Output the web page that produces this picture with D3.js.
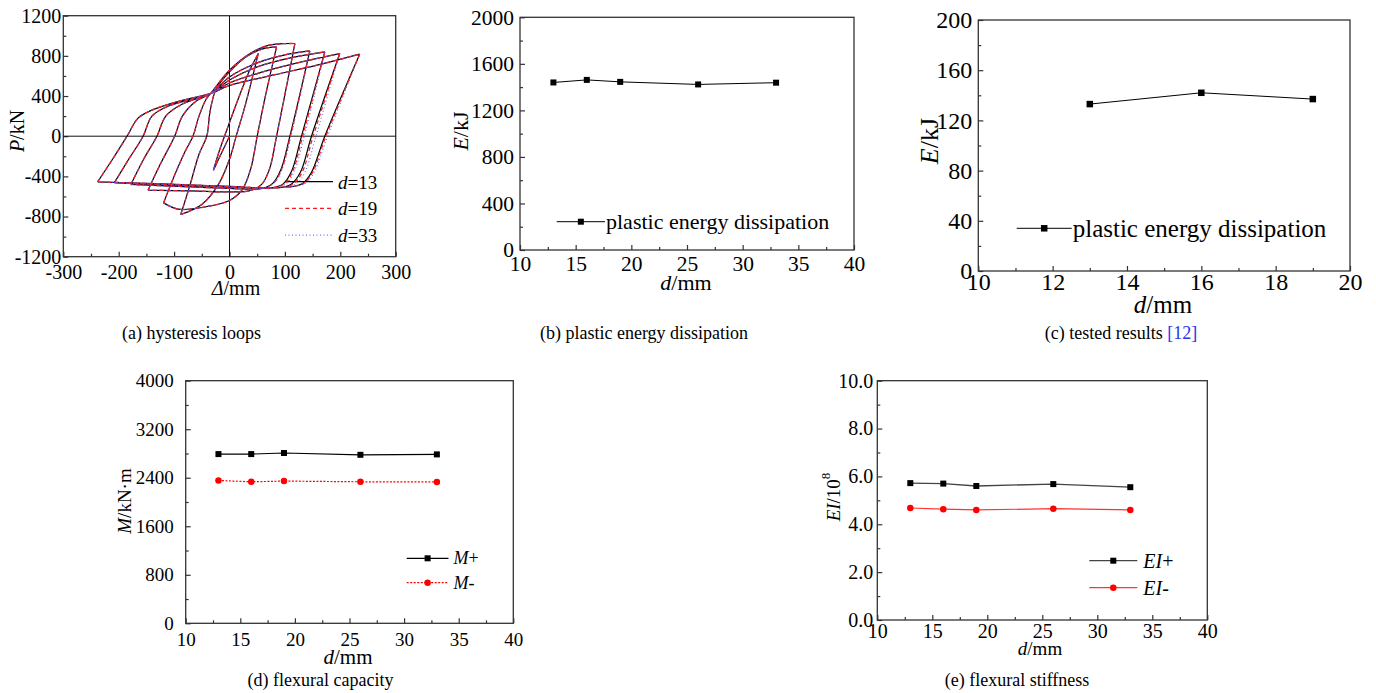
<!DOCTYPE html>
<html>
<head>
<meta charset="utf-8">
<script src="https://cdn.jsdelivr.net/npm/d3@7"></script>
<style>
  body { margin: 0; background: #fff; }
  text { font-family: "Liberation Serif", "Times New Roman", serif; fill: #000; }
</style>
</head>
<body>
<script>
// data

// (a) hysteresis loops, d=13
// first push to the small negative peak, then cycles: each reload ends at a positive peak,
// each unload ends at the next negative peak
const loopStart = [[0, 0], [-12, -140], [-29, -339]];
const loopReload = [
  [[-18, -140], [-5, 60], [15, 360], [35, 640], [52, 824]],
  [[-72, -500], [-55, -180], [-41, 0], [-35, 250], [-24, 470], [0, 640], [30, 790], [60, 870], [85, 890]],
  [[-100, -400], [-80, -150], [-66, 0], [-55, 200], [-42, 370], [-32, 440], [0, 657], [37, 823], [67, 900], [95, 921], [118, 923]],
  [[-125, -280], [-99, 0], [-85, 200], [-60, 350], [-32, 430], [0, 590], [50, 730], [100, 810], [145, 850]],
  [[-155, -230], [-131, 0], [-115, 200], [-85, 320], [-32, 430], [0, 560], [50, 690], [110, 780], [172, 840]],
  [[-182, -230], [-156, 0], [-140, 200], [-110, 300], [-60, 380], [-32, 430], [0, 530], [60, 640], [130, 740], [199, 823]],
  [[-210, -220], [-185, 0], [-165, 180], [-140, 260], [-95, 342], [-32, 430], [0, 505], [80, 610], [160, 710], [235, 817]]
];
const loopUnload = [
  [[42, 600], [28, 300], [12, 0], [0, -230], [-20, -480], [-50, -680], [-88, -780]],
  [[64, 380], [50, 0], [38, -330], [22, -540], [0, -640], [-40, -700], [-92, -727], [-119, -664]],
  [[85, 0], [72, -330], [58, -480], [35, -545], [0, -555], [-70, -545], [-147, -538]],
  [[109, 0], [93, -330], [78, -470], [55, -525], [0, -520], [-90, -500], [-178, -481]],
  [[130, 0], [112, -350], [97, -475], [75, -515], [0, -505], [-100, -485], [-208, -465]],
  [[148, 0], [128, -360], [112, -475], [90, -512], [0, -500], [-120, -475], [-238, -455]],
  [[172, 0], [148, -360], [132, -470], [115, -500], [100, -505]]
];
// how far the unloading branches of d=19 and d=33 sit to the right of d=13 (mm)
const unloadShift19 = [0, 0, 0, 1, 2, 3, 2];
const unloadShift33 = [0, 0, 0, 2, 5, 8, 5];
const loopSeries = ["d=13", "d=19", "d=33"];

// (b) plastic energy dissipation
const dSim = [13, 16, 19, 26, 33];
const energySim = [1440, 1462, 1445, 1423, 1438];
// (c) tested results
const dTest = [13, 16, 19];
const energyTest = [133, 142, 137];
// (d) flexural capacity
const momentPlus = [2790, 2790, 2808, 2778, 2785];
const momentMinus = [2355, 2333, 2345, 2333, 2330];
// (e) flexural stiffness
const eiPlus = [5.72, 5.70, 5.60, 5.68, 5.55];
const eiMinus = [4.68, 4.63, 4.60, 4.65, 4.60];

// ticks
const dispTicks = [-300, -200, -100, 0, 100, 200, 300];
const dispMinor = [-250, -150, -50, 50, 150, 250];
const forceTicks = [-1200, -800, -400, 0, 400, 800, 1200];
const forceMinor = [-1000, -600, -200, 200, 600, 1000];
const dTicks = [10, 15, 20, 25, 30, 35, 40];
const dMinor = [12.5, 17.5, 22.5, 27.5, 32.5, 37.5];
const dTestTicks = [10, 12, 14, 16, 18, 20];
const dTestMinor = [11, 13, 15, 17, 19];
const energyTicks = [0, 400, 800, 1200, 1600, 2000];
const energyMinor = [200, 600, 1000, 1400, 1800];
const testTicks = [0, 40, 80, 120, 160, 200];
const testMinor = [20, 60, 100, 140, 180];
const momentTicks = [0, 800, 1600, 2400, 3200, 4000];
const momentMinor = [400, 1200, 2000, 2800, 3600];
const eiTicks = [0, 2, 4, 6, 8, 10];
const eiMinor = [1, 3, 5, 7, 9];

const frameColor = "#333";
const serif = '"Liberation Serif", "Times New Roman", serif';

let svg = d3.select("body")
  .append("svg")
  .attr("width", 1376)
  .attr("height", 693);

svg.append("rect").attr("width", 1376).attr("height", 693).style("fill", "#fff");

function makePanel(p) {
  let x = d3.scaleLinear().domain(p.xDomain).range([p.left, p.right]);
  let y = d3.scaleLinear().domain(p.yDomain).range([p.bottom, p.top]);
  let g = svg.append("g");

  let tidy = (sel) => {
    sel.attr("font-family", serif);
    sel.select(".domain").remove();
    sel.selectAll(".tick line").style("stroke", frameColor).style("stroke-width", 1.2);
    sel.selectAll(".tick text")
      .style("font-family", serif)
      .style("font-size", p.tickFont + "px")
      .style("fill", "#000");
  };

  g.append("g").attr("transform", `translate(0,${p.bottom})`)
    .call(d3.axisBottom(x).tickValues(p.xMinor).tickSize(-3).tickFormat(""))
    .call(tidy);
  g.append("g").attr("transform", `translate(0,${p.bottom})`)
    .call(d3.axisBottom(x).tickValues(p.xTicks).tickSize(-5).tickPadding(p.xPad).tickFormat(p.xFmt || (d => d)))
    .call(tidy);
  g.append("g").attr("transform", `translate(${p.left},0)`)
    .call(d3.axisLeft(y).tickValues(p.yMinor).tickSize(-3).tickFormat(""))
    .call(tidy);
  g.append("g").attr("transform", `translate(${p.left},0)`)
    .call(d3.axisLeft(y).tickValues(p.yTicks).tickSize(-5).tickPadding(p.yPad).tickFormat(p.yFmt || (d => d)))
    .call(tidy);

  g.append("rect")
    .attr("x", p.left).attr("y", p.top)
    .attr("width", p.right - p.left).attr("height", p.bottom - p.top)
    .style("fill", "none")
    .style("stroke", frameColor)
    .style("stroke-width", 1.3);

  return { x, y, g };
}

// label like "E/kJ": italic part then the rest
function axisLabel(g, x, y, italic, rest, size, rotate) {
  let t = g.append("text")
    .attr("x", x).attr("y", y)
    .attr("text-anchor", "middle")
    .attr("dominant-baseline", "central")
    .style("font-size", size + "px");
  if (rotate) t.attr("transform", `rotate(-90,${x},${y})`);
  t.append("tspan").style("font-style", "italic").text(italic);
  t.append("tspan").text(rest);
  return t;
}

function caption(x, y, txt, extra) {
  let t = svg.append("text")
    .attr("x", x).attr("y", y)
    .attr("text-anchor", "middle")
    .style("font-size", "18px")
    .text(txt);
  if (extra) t.append("tspan").style("fill", "#2233ee").text(extra);
}

function marker(g, type, cx, cy, color, size) {
  if (type === "square") {
    g.append("rect")
      .attr("x", cx - size / 2).attr("y", cy - size / 2)
      .attr("width", size).attr("height", size)
      .style("fill", color);
  } else {
    g.append("circle").attr("cx", cx).attr("cy", cy).attr("r", size / 2).style("fill", color);
  }
}

function series(panel, xs, ys, opt) {
  let pts = xs.map((d, i) => [panel.x(d), panel.y(ys[i])]);
  panel.g.append("path")
    .attr("d", d3.line()(pts))
    .style("fill", "none")
    .style("stroke", opt.color)
    .style("stroke-width", opt.width || 1)
    .style("stroke-dasharray", opt.dash || null);
  pts.forEach(p => marker(panel.g, opt.marker, p[0], p[1], opt.markerColor || opt.color, opt.size || 6));
}

function legendRow(g, x1, x2, y, opt, label, size, italic, gap) {
  g.append("line")
    .attr("x1", x1).attr("x2", x2).attr("y1", y).attr("y2", y)
    .style("stroke", opt.color)
    .style("stroke-width", opt.width || 1)
    .style("stroke-dasharray", opt.dash || null);
  if (opt.marker) marker(g, opt.marker, (x1 + x2) / 2, y, opt.markerColor || opt.color, opt.size || 6);
  let t = g.append("text")
    .attr("x", x2 + (gap || 1)).attr("y", y)
    .attr("dominant-baseline", "central")
    .style("font-size", size + "px");
  if (italic) {
    t.append("tspan").style("font-style", "italic").text(italic);
    t.append("tspan").text(label);
  } else t.text(label);
}

// (a) hysteresis loops
let pa = makePanel({
  left: 63.3, right: 395.7, top: 15.7, bottom: 256.7,
  xDomain: [-300, 300], yDomain: [-1200, 1200],
  xTicks: dispTicks, xMinor: dispMinor, yTicks: forceTicks, yMinor: forceMinor,
  tickFont: 20, xPad: 8, yPad: 2
});
pa.g.append("line")
  .attr("x1", pa.x(-300)).attr("x2", pa.x(300)).attr("y1", pa.y(0)).attr("y2", pa.y(0))
  .style("stroke", "#111").style("stroke-width", 1);
pa.g.append("line")
  .attr("x1", pa.x(0)).attr("x2", pa.x(0)).attr("y1", pa.y(-1200)).attr("y2", pa.y(1200))
  .style("stroke", "#111").style("stroke-width", 1);

// split the loop path at every peak so corners stay sharp
function loopSegments(shift) {
  let segs = [loopStart];
  let last = loopStart[loopStart.length - 1];
  loopReload.forEach((r, k) => {
    let up = [last].concat(r);
    segs.push(up);
    last = r[r.length - 1];
    let down = [last].concat(loopUnload[k].map((p, i) => [p[0] + (i < 3 ? shift[k] : 0), p[1]]));
    segs.push(down);
    last = down[down.length - 1];
  });
  return segs;
}

const loopStyles = [
  { color: "#000", width: 1.2, dash: null },
  { color: "#ff1a1a", width: 1.3, dash: "4,3" },
  { color: "#4455ff", width: 1, dash: "1,2.5" }
];
const loopShifts = [[0, 0, 0, 0, 0, 0, 0], unloadShift19, unloadShift33];
let loopLine = d3.line()
  .x(d => pa.x(d[0]))
  .y(d => pa.y(d[1]))
  .curve(d3.curveCatmullRom.alpha(0.5));

loopSeries.forEach((s, i) => {
  pa.g.append("path")
    .attr("d", loopSegments(loopShifts[i]).map(seg => loopLine(seg)).join(""))
    .style("fill", "none")
    .style("stroke", loopStyles[i].color)
    .style("stroke-width", loopStyles[i].width)
    .style("stroke-dasharray", loopStyles[i].dash);
  legendRow(pa.g, 285, 333, 181.7 + i * 26.7, loopStyles[i], s.slice(1), 19, "d", 5);
});

axisLabel(pa.g, 17, 131, "P", "/kN", 20, true);
axisLabel(pa.g, 236, 288, "Δ", "/mm", 20, false);
caption(191.5, 339, "(a) hysteresis loops");

// (b) plastic energy dissipation
let pb = makePanel({
  left: 520, right: 854, top: 17.3, bottom: 250,
  xDomain: [10, 40], yDomain: [0, 2000],
  xTicks: dTicks, xMinor: dMinor, yTicks: energyTicks, yMinor: energyMinor,
  tickFont: 21.5, xPad: 6, yPad: 6
});
series(pb, dSim, energySim, { color: "#000", marker: "square", size: 6 });
legendRow(pb.g, 556.7, 605, 221.7, { color: "#000", marker: "square", size: 6 }, "plastic energy dissipation", 22);
axisLabel(pb.g, 460, 131, "E", "/kJ", 22, true);
axisLabel(pb.g, 686, 282, "d", "/mm", 22, false);
caption(644, 339, "(b) plastic energy dissipation");

// (c) tested results
let pc = makePanel({
  left: 978.3, right: 1350, top: 20, bottom: 271,
  xDomain: [10, 20], yDomain: [0, 200],
  xTicks: dTestTicks, xMinor: dTestMinor, yTicks: testTicks, yMinor: testMinor,
  tickFont: 24, xPad: 2, yPad: 6
});
series(pc, dTest, energyTest, { color: "#000", marker: "square", size: 6.5 });
legendRow(pc.g, 1016.7, 1071.7, 228.3, { color: "#000", marker: "square", size: 6.5 }, "plastic energy dissipation", 25);
axisLabel(pc.g, 928.5, 141, "E", "/kJ", 26, true);
axisLabel(pc.g, 1163, 304, "d", "/mm", 25, false);
caption(1121, 339, "(c) tested results ", "[12]");

// (d) flexural capacity
let pd = makePanel({
  left: 185.7, right: 513.3, top: 380.7, bottom: 623.3,
  xDomain: [10, 40], yDomain: [0, 4000],
  xTicks: dTicks, xMinor: dMinor, yTicks: momentTicks, yMinor: momentMinor,
  tickFont: 19, xPad: 9, yPad: 12
});
const mPlusStyle = { color: "#000", width: 1.2, marker: "square", size: 6 };
const mMinusStyle = { color: "#ff0000", width: 1.2, dash: "2,1.5", marker: "circle", size: 6.5 };
series(pd, dSim, momentPlus, mPlusStyle);
series(pd, dSim, momentMinus, mMinusStyle);
legendRow(pd.g, 406.7, 448.5, 558.3, mPlusStyle, "+", 18, "M", 5);
legendRow(pd.g, 406.7, 448.5, 582.7, mMinusStyle, "-", 18, "M", 5);
axisLabel(pd.g, 123.5, 501, "M", "/kN·m", 19, true);
axisLabel(pd.g, 348, 657, "d", "/mm", 21, false);
caption(320.5, 686, "(d) flexural capacity");

// (e) flexural stiffness
let pe = makePanel({
  left: 877.3, right: 1207.3, top: 380.7, bottom: 620,
  xDomain: [10, 40], yDomain: [0, 10],
  xTicks: dTicks, xMinor: dMinor, yTicks: eiTicks, yMinor: eiMinor,
  tickFont: 20, xPad: 4, yPad: 4, yFmt: d3.format(".1f")
});
const eiPlusStyle = { color: "#444", width: 1.3, marker: "square", markerColor: "#000", size: 6 };
const eiMinusStyle = { color: "#ff3333", width: 1.2, marker: "circle", markerColor: "#ff0000", size: 6.5 };
series(pe, dSim, eiPlus, eiPlusStyle);
series(pe, dSim, eiMinus, eiMinusStyle);
legendRow(pe.g, 1089.3, 1137.3, 560.7, eiPlusStyle, "+", 20, "EI", 6);
legendRow(pe.g, 1089.3, 1137.3, 587.7, eiMinusStyle, "-", 20, "EI", 6);
let eiLab = axisLabel(pe.g, 833, 497, "EI", "/10", 19, true);
eiLab.append("tspan").attr("dy", "-0.6em").style("font-size", "13px").text("8");
axisLabel(pe.g, 1040, 648, "d", "/mm", 19, false);
caption(1017, 686, "(e) flexural stiffness");
</script>
</body>
</html>
